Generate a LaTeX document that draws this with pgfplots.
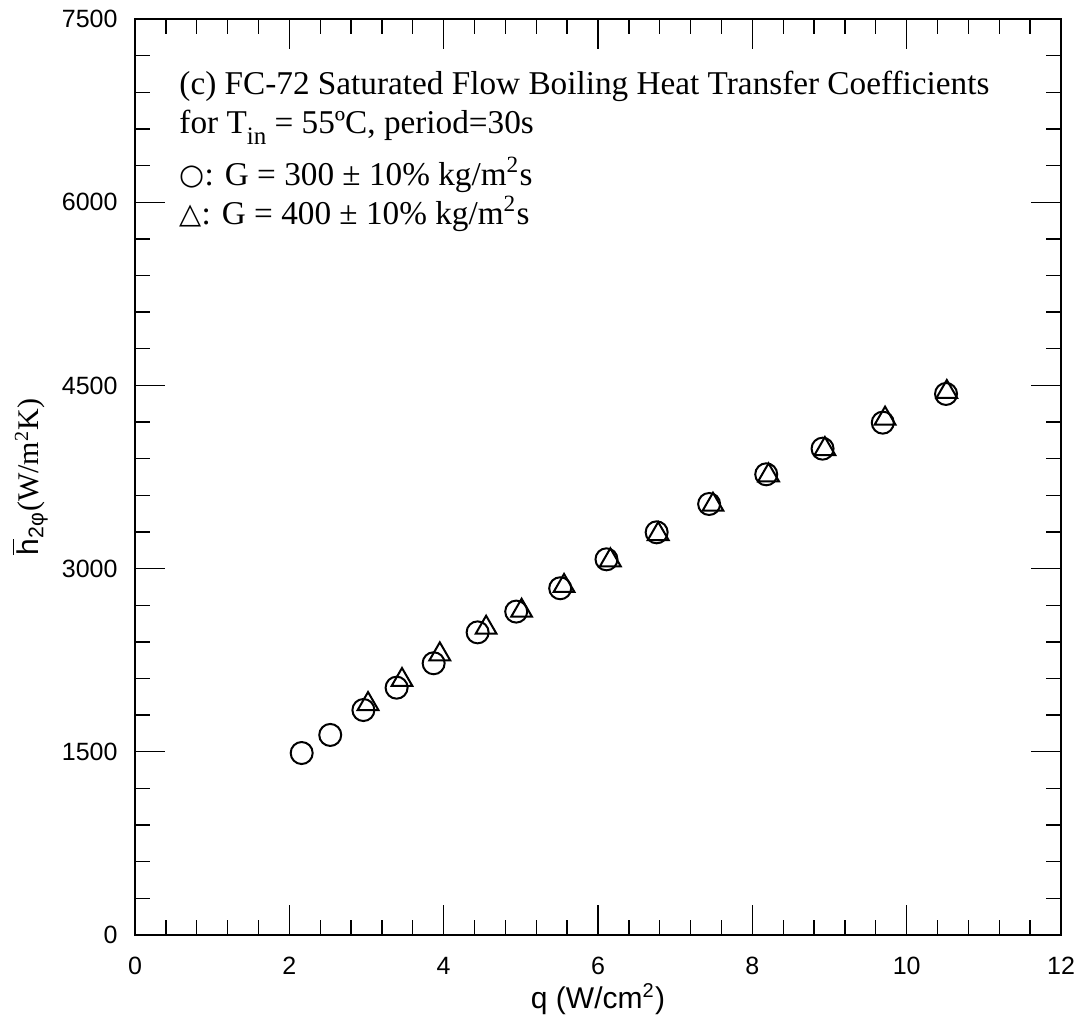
\documentclass[border=0pt]{standalone}
\usepackage{fontspec}
\setmainfont{Liberation Serif}
\setsansfont{Liberation Sans}
\newfontfamily\symfont{DejaVu Sans}
\usepackage{pgfplots}
\pgfplotsset{compat=1.18}
\begin{document}
\begin{tikzpicture}
\begin{axis}[name=ax, scale only axis, width=370.4pt, height=366.4pt,
 xmin=0, xmax=12, ymin=0, ymax=7500,
 xtick={0,2,4,6,8,10,12}, ytick={0,1500,3000,4500,6000,7500},
 minor xtick={0.4,0.8,...,11.7}, minor ytick={300,600,...,7400},
 tickwidth=12pt, subtickwidth=6pt,
 major tick style={line width=0.55pt, black},
 minor tick style={line width=0.55pt, black},
 axis line style={line width=0.7pt},
 tick label style={font=\fontsize{10}{12}\selectfont\sffamily, /pgf/number format/assume math mode=true},
 /pgf/number format/1000 sep={},
 x tick label style={anchor=center, inner sep=0pt, yshift=-12.4pt},
 y tick label style={anchor=east, inner sep=0pt, xshift=-6.8pt},
 xlabel={q (W/cm\textsuperscript{2})},
 xlabel style={font=\fontsize{12}{14}\selectfont\sffamily, at={(axis description cs:0.5,-0.0699)}, anchor=center, inner sep=0pt},
 ylabel={$\overline{\mbox{\sffamily h}}_{\mbox{\sffamily\fontsize{8.5}{9}\selectfont 2φ}}$(W/m\textsuperscript{2}K)},
 ylabel style={font=\fontsize{12}{14}\selectfont\rmfamily, at={(axis description cs:-0.1134,0.5)}, anchor=center, inner sep=0pt},
 clip=false,
]
\addplot[only marks, mark=o, mark size=4.4pt, line width=0.8pt, black] coordinates {
(2.16,1490) (2.53,1638) (2.96,1842) (3.39,2025) (3.87,2225) (4.44,2478)
(4.94,2648) (5.51,2839) (6.11,3076) (6.76,3297) (7.44,3529) (8.18,3772)
(8.91,3982) (9.69,4195) (10.51,4430)
};
\addplot[only marks, mark=triangle, mark size=4.8pt, line width=0.8pt, black] coordinates {
(3.02,1891) (3.46,2088) (3.95,2298) (4.55,2516) (5.01,2655) (5.56,2858)
(6.16,3068) (6.78,3283) (7.49,3523) (8.21,3764) (8.94,3979) (9.72,4228)
(10.52,4446)
};
\begin{scope}[every node/.style={anchor=base west, inner sep=0pt, font=\fontsize{13.3}{16}\selectfont\rmfamily}]
\node at (rel axis cs:0.0475,0.918) {(c) FC-72 Saturated Flow Boiling Heat Transfer Coefficients};
\node at (rel axis cs:0.0475,0.875) {for T\raisebox{-4.3pt}{\fontsize{10}{10}\selectfont in} = 55ºC, period=30s};
\node at (rel axis cs:0.0475,0.818) {\raisebox{0.3pt}{\symfont\fontsize{11.5}{12}\selectfont ○}: G = 300 ± 10\% kg/m\textsuperscript{2}s};
\node at (rel axis cs:0.0475,0.776) {\raisebox{0.3pt}{\symfont\fontsize{11.5}{12}\selectfont △}: G = 400 ± 10\% kg/m\textsuperscript{2}s};
\end{scope}
\end{axis}
\pgfresetboundingbox
\path ([shift={(-54pt,-35.2pt)}]ax.south west) rectangle ([shift={(8.8pt,7.6pt)}]ax.north east);
\end{tikzpicture}
\end{document}
